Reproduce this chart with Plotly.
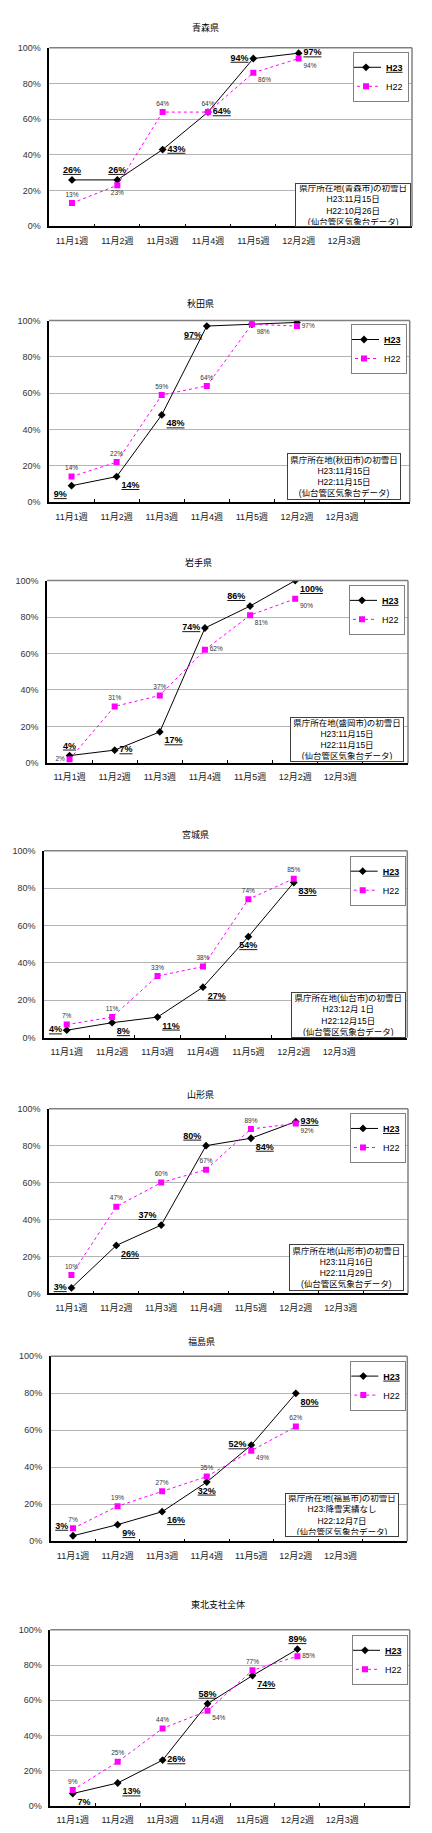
import plotly.graph_objects as go

W, H = 432, 1833

weeks = ["11月1週", "11月2週", "11月3週", "11月4週", "11月5週", "12月2週", "12月3週"]
data_weeks = weeks[:6]

titles = ["青森県", "秋田県", "岩手県", "宮城県", "山形県", "福島県", "東北支社全体"]

y_ticks = [0, 20, 40, 60, 80, 100]
y_tick_labels = ["0%", "20%", "40%", "60%", "80%", "100%"]

aomori_h23 = [26, 26, 43, 64, 94, 97]
aomori_h22 = [13, 23, 64, 64, 86, 94]
akita_h23 = [9, 14, 48, 97, 98, 99]
akita_h22 = [14, 22, 59, 64, 98, 97]
iwate_h23 = [4, 7, 17, 74, 86, 100]
iwate_h22 = [2, 31, 37, 62, 81, 90]
miyagi_h23 = [4, 8, 11, 27, 54, 83]
miyagi_h22 = [7, 11, 33, 38, 74, 85]
yamagata_h23 = [3, 26, 37, 80, 84, 93]
yamagata_h22 = [10, 47, 60, 67, 89, 92]
fukushima_h23 = [3, 9, 16, 32, 52, 80]
fukushima_h22 = [7, 19, 27, 35, 49, 62]
tohoku_h23 = [7, 13, 26, 58, 74, 89]
tohoku_h22 = [9, 25, 44, 54, 77, 85]

series_h23 = [aomori_h23, akita_h23, iwate_h23, miyagi_h23, yamagata_h23, fukushima_h23, tohoku_h23]
series_h22 = [aomori_h22, akita_h22, iwate_h22, miyagi_h22, yamagata_h22, fukushima_h22, tohoku_h22]

notes = [
    ["県庁所在地(青森市)の初雪日", "H23:11月15日", "H22:10月26日", "(仙台管区気象台データ)"],
    ["県庁所在地(秋田市)の初雪日", "H23:11月15日", "H22:11月15日", "(仙台管区気象台データ)"],
    ["県庁所在地(盛岡市)の初雪日", "H23:11月15日", "H22:11月15日", "(仙台管区気象台データ)"],
    ["県庁所在地(仙台市)の初雪日", "H23:12月 1日", "H22:12月15日", "(仙台管区気象台データ)"],
    ["県庁所在地(山形市)の初雪日", "H23:11月16日", "H22:11月29日", "(仙台管区気象台データ)"],
    ["県庁所在地(福島市)の初雪日", "H23:降雪実績なし", "H22:12月7日", "(仙台管区気象台データ)"],
    None,
]

# label placement (style only)
pos_h23 = [
    ["top center", "top center", "middle right", "middle right", "middle left", "middle right"],
    ["bottom left", "bottom right", "bottom right", "bottom left", "top center", "top right"],
    ["top center", "middle right", "bottom right", "middle left", "top left", "bottom right"],
    ["middle left", "bottom right", "bottom right", "bottom right", "bottom center", "bottom right"],
    ["middle left", "bottom right", "top left", "top left", "bottom right", "middle right"],
    ["top left", "bottom right", "bottom right", "bottom center", "middle left", "bottom right"],
    ["bottom right", "bottom right", "middle right", "top center", "bottom right", "top center"],
]
pos_h22 = [
    ["top center", "bottom center", "top center", "top center", "bottom right", "bottom right"],
    ["top center", "top center", "top center", "top center", "bottom right", "middle right"],
    ["middle left", "top center", "top center", "middle right", "bottom right", "bottom right"],
    ["top center"] * 6,
    ["top center"] * 5 + ["bottom right"],
    ["top center"] * 4 + ["bottom right", "top center"],
    ["top center", "top center", "top center", "bottom right", "top center", "middle right"],
]

# panel geometry in pixels
panels = [
    dict(l=41.3, r=404, t=35, b=214.5, tx=197, ty=15, lr=401, lt=39, nb=(286.7, 403, 171, 215)),
    dict(l=41, r=401.7, t=309.3, b=491.7, tx=192, ty=291.7, lr=399, lt=312.7, nb=(279, 393, 443, 490)),
    dict(l=39, r=400, t=570.7, b=754, tx=190, ty=552.7, lr=397, lt=575, nb=(281.7, 395.7, 708, 752.7)),
    dict(l=36, r=399.3, t=842.3, b=1030.3, tx=187, ty=825.7, lr=397.7, lt=847.3, nb=(282.7, 397.3, 984, 1030)),
    dict(l=41, r=400, t=1101.7, b=1287.5, tx=192, ty=1087.7, lr=398, lt=1106, nb=(281, 395.7, 1238, 1285)),
    dict(l=42.7, r=399.3, t=1350.7, b=1536.7, tx=193, ty=1336, lr=398.3, lt=1355, nb=(276.7, 390.7, 1488, 1532)),
    dict(l=42.3, r=401.7, t=1625.7, b=1802.7, tx=210, ty=1600.7, lr=400, lt=1630.7, nb=None),
]

LAT = "Liberation Sans, Arial, Noto Sans CJK JP"
CJK = "Liberation Sans, Noto Sans CJK JP"

fig = go.Figure()
layout = dict(
    width=W, height=H, autosize=False,
    margin=dict(l=0, r=0, t=0, b=0),
    paper_bgcolor="white", plot_bgcolor="white",
    font=dict(family=CJK, size=9, color="#222"),
    annotations=[], shapes=[],
)

for i, p in enumerate(panels):
    n = i + 1
    xa = "x" if n == 1 else f"x{n}"
    ya = "y" if n == 1 else f"y{n}"
    lg = "legend" if n == 1 else f"legend{n}"
    h23 = series_h23[i]
    h22 = series_h22[i]

    fig.add_trace(go.Scatter(
        x=data_weeks, y=h23, xaxis=xa, yaxis=ya, legend=lg,
        name="<b><u>H23</u></b>",
        mode="lines+markers+text",
        line=dict(color="black", width=1),
        marker=dict(symbol="diamond", size=6, color="black"),
        text=[f"<b><u>{v}%</u></b>" for v in h23],
        textposition=pos_h23[i],
        textfont=dict(family=LAT, size=9, color="black"),
        hoverinfo="skip",
    ))
    fig.add_trace(go.Scatter(
        x=data_weeks, y=h22, xaxis=xa, yaxis=ya, legend=lg,
        name="H22",
        mode="lines+markers+text",
        line=dict(color="#FF00FF", width=1, dash="dot"),
        marker=dict(symbol="square", size=6, color="#FF00FF"),
        text=[f"{v}%" for v in h22],
        textposition=pos_h22[i],
        textfont=dict(family=LAT, size=6.5, color="#333"),
        hoverinfo="skip",
    ))

    xdom = [p["l"] / W, p["r"] / W]
    ydom = [1 - p["b"] / H, 1 - p["t"] / H]
    xkey = "xaxis" if n == 1 else f"xaxis{n}"
    ykey = "yaxis" if n == 1 else f"yaxis{n}"
    layout[xkey] = dict(
        domain=xdom, anchor=ya, type="category",
        categoryorder="array", categoryarray=weeks,
        range=[-0.5, 7.5], tickson="boundaries",
        ticks="inside", ticklen=3, tickcolor="black", tickwidth=1,
        showline=True, linecolor="black", linewidth=1.5,
        showgrid=False, zeroline=False,
        tickfont=dict(family=CJK, size=9, color="#222"),
        ticklabelstandoff=5, fixedrange=True,
    )
    layout[ykey] = dict(
        domain=ydom, anchor=xa, range=[0, 100],
        tickmode="array", tickvals=y_ticks, ticktext=y_tick_labels,
        showgrid=True, gridcolor="#b4b4b4", gridwidth=1,
        showline=True, linecolor="black", linewidth=1.5,
        ticks="", zeroline=False,
        tickfont=dict(family=LAT, size=9, color="#333"),
        ticklabelstandoff=5, fixedrange=True,
    )
    layout[lg] = dict(
        x=p["lr"] / W, y=1 - p["lt"] / H, xanchor="right", yanchor="top",
        xref="paper", yref="paper",
        bgcolor="white", bordercolor="#808080", borderwidth=1,
        font=dict(family=LAT, size=9, color="black"),
        itemwidth=30, tracegroupgap=0, indentation=-8,
    )
    layout["shapes"].append(dict(type="line", xref=f"{xa} domain", yref=f"{ya} domain",
                                 x0=0, x1=1, y0=1, y1=1, line=dict(color="#808080", width=1.5), layer="above"))
    layout["shapes"].append(dict(type="line", xref=f"{xa} domain", yref=f"{ya} domain",
                                 x0=1, x1=1, y0=0, y1=1, line=dict(color="#808080", width=1.5), layer="above"))
    layout["annotations"].append(dict(
        text=titles[i], x=p["tx"] / W, y=1 - p["ty"] / H, xref="paper", yref="paper",
        xanchor="center", yanchor="middle", showarrow=False,
        font=dict(family="Noto Sans CJK JP", size=9, color="black"),
    ))
    if notes[i] is not None and p["nb"] is not None:
        x0, x1, y0, y1 = p["nb"]
        layout["annotations"].append(dict(
            text="<br>".join(notes[i]),
            x=(x0 + x1) / 2 / W, y=1 - (y0 + y1) / 2 / H, xref="paper", yref="paper",
            xanchor="center", yanchor="middle", showarrow=False, align="center",
            width=x1 - x0 - 4, height=y1 - y0 - 4,
            bgcolor="white", bordercolor="#404040", borderwidth=1, borderpad=1,
            font=dict(family=CJK, size=8.5, color="black"),
        ))

fig.update_layout(**layout)
fig.write_html("out.html", config={"displayModeBar": False})
